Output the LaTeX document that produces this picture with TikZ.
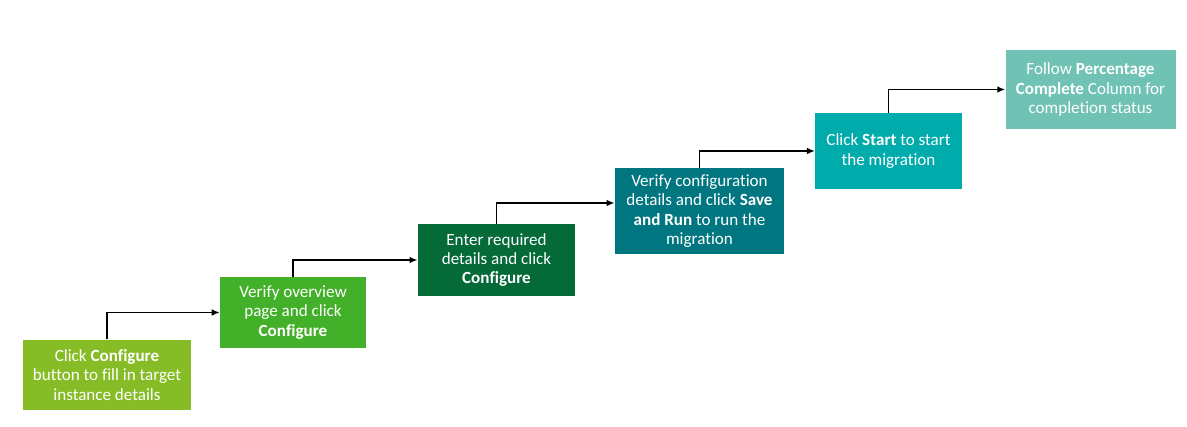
\documentclass[tikz,border=0pt]{standalone}
\usepackage{fontspec}
\setmainfont{Carlito}[Ligatures=CommonOff]
\usepackage{tikz}
\usetikzlibrary{arrows.meta}

\definecolor{stepA}{HTML}{86BC25}
\definecolor{stepB}{HTML}{43B02A}
\definecolor{stepC}{HTML}{046A38}
\definecolor{stepD}{HTML}{007680}
\definecolor{stepE}{HTML}{00ABAB}
\definecolor{stepF}{HTML}{6FC2B4}

\tikzset{
  stepbox/.style={rectangle, inner sep=0pt, align=center, text=white,
    font=\fontsize{12.8}{14.6}\selectfont},
  link/.style={draw=black, line width=1.1pt, -{Latex[length=6pt,width=5pt]}}
}

\begin{document}
\begin{tikzpicture}[x=0.75pt, y=-0.75pt]
\useasboundingbox (0,0) rectangle (1187,427);
\node[stepbox, fill=stepA, minimum width=126pt, minimum height=53pt] (b1) at (107,375) {Click \textbf{Configure}\\button to fill in target\\instance details};
\node[stepbox, fill=stepB, minimum width=109.5pt, minimum height=53pt] (b2) at (293,312.5) {Verify overview\\page and click\\\textbf{Configure}};
\node[stepbox, fill=stepC, minimum width=118pt, minimum height=54pt] (b3) at (496.5,260) {Enter required\\details and click\\\textbf{Configure}};
\node[stepbox, fill=stepD, minimum width=127pt, minimum height=64.5pt] (b4) at (699.5,211) {Verify configuration\\details and click \textbf{Save}\\\textbf{and Run} to run the\\migration};
\node[stepbox, fill=stepE, minimum width=110pt, minimum height=57pt] (b5) at (888.5,151) {Click \textbf{Start} to start\\the migration};
\node[stepbox, fill=stepF, minimum width=127.5pt, minimum height=59pt] (b6) at (1090.5,89.5) {Follow \textbf{Percentage}\\\textbf{Complete} Column for\\completion status};

\draw[link] (b1.north) |- (b2.west);
\draw[link] (b2.north) |- (b3.west);
\draw[link] (b3.north) |- ([yshift=6pt]b4.west);
\draw[link] (b4.north) |- (b5.west);
\draw[link] (b5.north) |- (b6.west);
\end{tikzpicture}
\end{document}
